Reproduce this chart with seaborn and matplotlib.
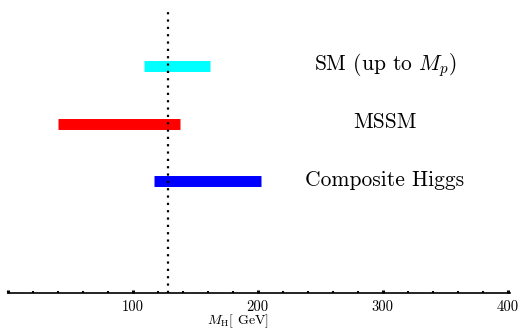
import numpy as np
import pandas as pd
import matplotlib
matplotlib.use("Agg")
import matplotlib.pyplot as plt
import seaborn as sns
from matplotlib.ticker import MultipleLocator

# ---- data ----
models = ["SM (up to $M_p$)", "MSSM", "Composite Higgs"]
mh_low = [109, 40, 117]
mh_high = [162, 138, 203]
colors = ["#00FFFF", "#FF0000", "#0000FF"]
mh_measured = 128
tick_values = [100, 200, 300, 400]
tick_labels = ["100", "200", "300", "400"]

sns.set_style("white")
plt.rcParams["font.family"] = ["cmr10", "DejaVu Serif"]
plt.rcParams["mathtext.fontset"] = "cm"
plt.rcParams["axes.formatter.use_mathtext"] = True
plt.rcParams["text.color"] = "black"
plt.rcParams["axes.labelcolor"] = "black"
plt.rcParams["xtick.color"] = "black"

fig = plt.figure(figsize=(5.29, 3.30), dpi=100)
ax = fig.add_axes([7.5 / 529, 37 / 330, 502 / 529, 293 / 330])

n = len(models)
rows = []
for i, m in enumerate(models):
    ypos = n - i
    rows.append({"model": m, "mh": mh_low[i], "y": ypos})
    rows.append({"model": m, "mh": mh_high[i], "y": ypos})
df = pd.DataFrame(rows)

sns.lineplot(data=df, x="mh", y="y", hue="model", units="model",
             estimator=None, sort=False, legend=False,
             palette=dict(zip(models, colors)), linewidth=7.9,
             solid_capstyle="butt", ax=ax)

ax.set_xlim(0, 401.6)
ax.set_ylim(-0.94, 4.146)

ax.plot([mh_measured, mh_measured], [-0.94, 4.02], color="black",
        linewidth=1.6, linestyle=(0, (1, 2.3)), zorder=5)

for i, m in enumerate(models):
    ax.text(302, n - i + 0.02, m, ha="center", va="center", fontsize=15.5)

for s in ["left", "top", "right"]:
    ax.spines[s].set_visible(False)
ax.spines["bottom"].set_linewidth(1.2)
ax.spines["bottom"].set_color("black")

ax.set_yticks([])
ax.set_ylabel("")
ax.xaxis.set_major_locator(MultipleLocator(100))
ax.xaxis.set_minor_locator(MultipleLocator(20))
ax.set_xticks([0] + tick_values)
ax.set_xticklabels([""] + tick_labels)
ax.tick_params(axis="x", which="major", direction="in", length=2.5,
               width=2.2, pad=5, labelsize=10.5, bottom=True)
ax.tick_params(axis="x", which="minor", direction="in", length=1.8,
               width=1.5, bottom=True)
ax.set_xlabel(r"$M_{\rm H}$[ GeV]", fontsize=10)
ax.xaxis.set_label_coords(0.459, -0.068)

fig.savefig("out.png", dpi=100)
